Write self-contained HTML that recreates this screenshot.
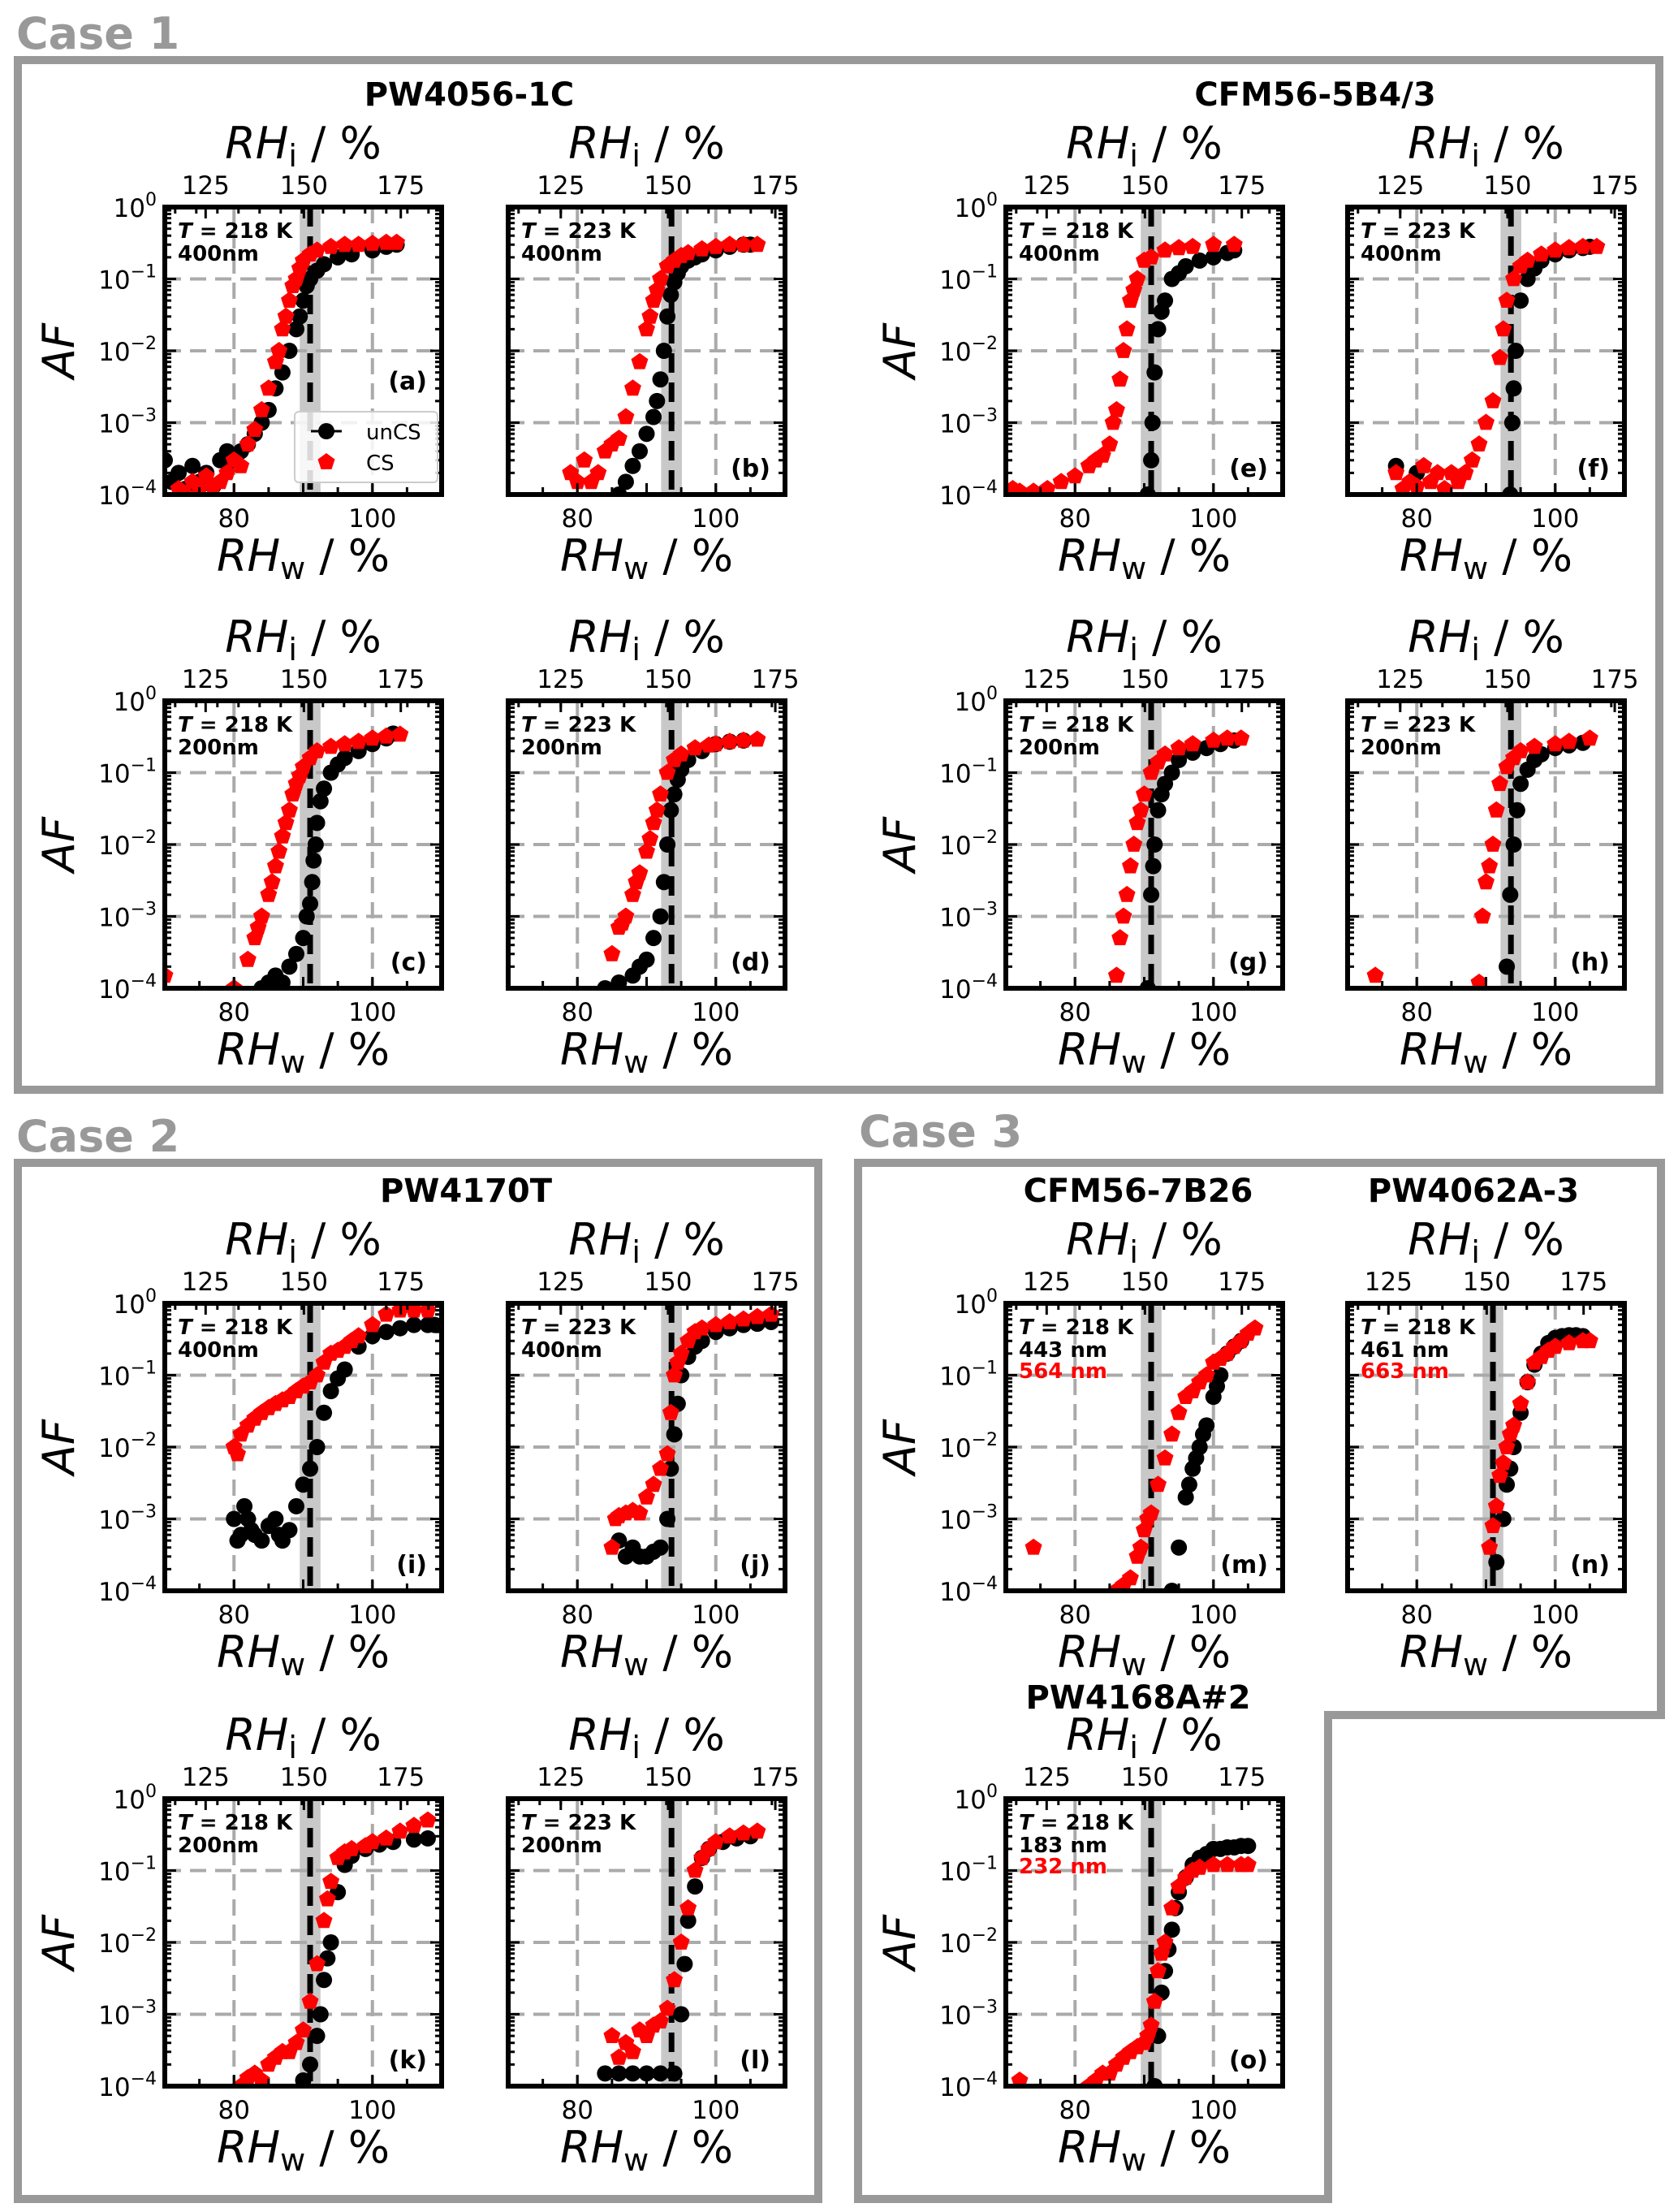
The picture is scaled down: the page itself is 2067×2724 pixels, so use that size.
<!DOCTYPE html>
<html><head><meta charset="utf-8">
<style>
html,body{margin:0;padding:0;background:#fff;}
svg{display:block;font-family:"DejaVu Sans","Liberation Sans",sans-serif;}
</style></head>
<body>
<svg id="fig" width="2067" height="2724" viewBox="0 0 2067 2724" xmlns="http://www.w3.org/2000/svg">
  <g id="frames" fill="none" stroke="#999" stroke-width="10">
    <rect x="22" y="74" width="2022" height="1268"/>
    <rect x="22" y="1432" width="986" height="1276"/>
    <path d="M1057,1432 L2046,1432 L2046,2112 L1636,2112 L1636,2708 L1057,2708 Z"/>
  </g>
  <text x="20" y="60" font-size="54" font-weight="bold" fill="#999">Case 1</text>
  <text x="20" y="1418" font-size="54" font-weight="bold" fill="#999">Case 2</text>
  <text x="1058" y="1412" font-size="54" font-weight="bold" fill="#999">Case 3</text>
  <g font-size="40" font-weight="bold" text-anchor="middle">
    <text x="578" y="130">PW4056-1C</text>
    <text x="1620" y="130">CFM56-5B4/3</text>
    <text x="574" y="1480">PW4170T</text>
    <text x="1402" y="1480">CFM56-7B26</text>
    <text x="1815" y="1480">PW4062A-3</text>
    <text x="1402" y="2104">PW4168A#2</text>
  </g>
  <g id="panels"></g>
</svg>
<script>
// ---- data (RHw in %, AF) ----
const xTicks = [80, 100];
const yTickExp = [0, -1, -2, -3, -4];
const topTickLabels = [125, 150, 175];
const topTickPos218 = [75.9, 90.1, 104.1];
const topTickPos223 = [77.6, 93.1, 108.6];

const a_unX = [70,71,72,73,74,75,76,77,78,79,80,81,82,83,84,85,86,87,88,89,89.5,90,90.5,91,92,93,95,97,100,102,103.5];
const a_unY = [3e-4,1.5e-4,2e-4,1.2e-4,2.5e-4,1.5e-4,2e-4,1.3e-4,3e-4,4e-4,3e-4,4e-4,5e-4,7e-4,1e-3,1.5e-3,3e-3,5e-3,1e-2,2e-2,3e-2,5e-2,0.08,0.1,0.13,0.16,0.2,0.22,0.25,0.28,0.3];
const a_csX = [72,73,74,75,76,77,78,79,80,81,82,83,84,85,86,86.5,87,87.5,88,88.5,89,89.5,90,91,92,94,96,98,100,102,103.5];
const a_csY = [1.2e-4,1e-4,1.5e-4,1.2e-4,1.8e-4,1.3e-4,1.5e-4,2e-4,3e-4,2.5e-4,5e-4,8e-4,1.5e-3,3e-3,7e-3,1e-2,2e-2,3e-2,5e-2,0.08,0.1,0.14,0.18,0.22,0.25,0.28,0.3,0.3,0.31,0.32,0.32];

const b_unX = [86,87,88,89,90,91,91.5,92,92.5,93,93.5,94,94.5,95,96,97,98,100,102,104,105];
const b_unY = [1e-4,1.5e-4,2.5e-4,4e-4,7e-4,1.2e-3,2e-3,4e-3,1e-2,3e-2,0.06,0.09,0.12,0.15,0.18,0.2,0.22,0.25,0.28,0.3,0.3];
const b_csX = [79,80,81,82,83,84,85,86,87,88,89,90,90.5,91,91.5,92,93,94,95,96,98,100,102,104,106];
const b_csY = [2e-4,1.5e-4,3e-4,1.5e-4,2e-4,4e-4,5e-4,6e-4,1.2e-3,3e-3,7e-3,0.02,0.03,0.05,0.07,0.1,0.15,0.18,0.21,0.23,0.26,0.28,0.3,0.3,0.3];

const c_unX = [84,85,86,87,88,89,90,90.5,91,91.3,91.5,91.8,92,92.5,93,94,95,96,98,100,102,103];
const c_unY = [1e-4,1.2e-4,1.5e-4,1.2e-4,2e-4,3e-4,5e-4,1e-3,1.5e-3,3e-3,6e-3,1e-2,2e-2,0.04,0.06,0.1,0.13,0.16,0.2,0.25,0.3,0.35];
const c_csX = [70,80,82,83,83.5,84,85,85.5,86,86.5,87,87.5,88,88.5,89,89.5,90,91,92,94,96,98,100,102,104];
const c_csY = [1.5e-4,1e-4,2.5e-4,5e-4,7e-4,1e-3,2e-3,3e-3,5e-3,8e-3,1.3e-2,2e-2,3e-2,5e-2,0.07,0.09,0.12,0.16,0.2,0.23,0.25,0.27,0.3,0.32,0.34];

const d_unX = [84,86,88,89,90,91,92,92.5,93,93.5,94,94.5,95,96,98,100,102,104];
const d_unY = [1e-4,1.2e-4,1.5e-4,2e-4,2.5e-4,5e-4,1e-3,3e-3,1e-2,3e-2,0.05,0.08,0.11,0.15,0.2,0.25,0.27,0.28];
const d_csX = [85,86,86.5,87,88,88.5,89,90,90.5,91,91.5,92,93,94,95,97,99,100,102,104,106];
const d_csY = [3e-4,7e-4,8e-4,1e-3,2e-3,3e-3,4e-3,8e-3,1.2e-2,2e-2,3e-2,5e-2,0.1,0.15,0.18,0.22,0.24,0.25,0.27,0.28,0.29];

const e_unX = [90.5,91,91.2,91.5,92,92.5,93,94,95,96,98,100,102,103];
const e_unY = [1e-4,3e-4,1e-3,5e-3,2e-2,0.035,0.05,0.1,0.12,0.15,0.18,0.2,0.23,0.25];
const e_csX = [71,72,74,76,78,80,82,83,84,85,85.5,86,86.5,87,87.5,88,88.5,89,90,91,93,95,97,100,103];
const e_csY = [1.2e-4,1.1e-4,1.1e-4,1.2e-4,1.5e-4,1.8e-4,2.5e-4,3e-4,3.5e-4,5e-4,1e-3,1.5e-3,4e-3,1e-2,2e-2,5e-2,0.07,0.1,0.18,0.2,0.25,0.27,0.28,0.3,0.3];

const f_unX = [77,80,93.5,93.8,94,94.3,95,96,97,98,100,102,104,105];
const f_unY = [2.5e-4,2e-4,1e-4,1e-3,3e-3,1e-2,5e-2,0.1,0.14,0.18,0.22,0.25,0.27,0.28];
const f_csX = [77,78,79,80,81,82,83,84,85,86,87,88,89,90,91,92,92.5,93,94,95,96,98,100,102,104,106];
const f_csY = [2e-4,1.2e-4,1.5e-4,1.3e-4,2.5e-4,1.5e-4,2e-4,1.2e-4,2e-4,1.5e-4,2e-4,3e-4,5e-4,1e-3,2e-3,8e-3,2e-2,5e-2,0.1,0.15,0.18,0.22,0.25,0.27,0.28,0.28];

const g_unX = [90.5,91,91.3,91.5,92,92.5,93,94,95,97,99,101,103];
const g_unY = [1e-4,2e-3,5e-3,1e-2,3e-2,0.05,0.07,0.1,0.15,0.19,0.22,0.25,0.28];
const g_csX = [86,86.5,87,87.5,88,88.5,89,89.5,90,91,92,93,95,97,100,102,104];
const g_csY = [1.5e-4,5e-4,1e-3,2e-3,5e-3,1e-2,2e-2,3e-2,5e-2,0.1,0.14,0.18,0.22,0.25,0.28,0.3,0.3];

const h_unX = [93,93.5,94,94.5,95,96,97,98,100,102,104];
const h_unY = [2e-4,2e-3,1e-2,3e-2,0.07,0.11,0.15,0.18,0.22,0.24,0.26];
const h_csX = [74,89,89.5,90,90.5,91,91.5,92,93,94,95,97,100,102,105];
const h_csY = [1.5e-4,1.2e-4,1e-3,3e-3,5e-3,1e-2,3e-2,0.07,0.12,0.16,0.2,0.23,0.25,0.27,0.3];

const i_unX = [80,80.5,81,81.5,82,82.5,83,84,85,86,86.5,87,88,89,90,91,92,93,94,95,96,98,100,102,104,106,108,109];
const i_unY = [1e-3,5e-4,6e-4,1.5e-3,1e-3,7e-4,6e-4,5e-4,8e-4,1e-3,6e-4,5e-4,7e-4,1.5e-3,3e-3,5e-3,1e-2,3e-2,0.06,0.09,0.12,0.25,0.35,0.4,0.45,0.5,0.5,0.5];
const i_csX = [80,80.5,81,82,83,84,85,86,87,88,89,90,91,92,93,94,95,96,97,98,100,102,104,106,108];
const i_csY = [1e-2,8e-3,1.5e-2,2e-2,2.5e-2,3e-2,3.5e-2,4e-2,4.5e-2,5e-2,6e-2,7e-2,8e-2,0.1,0.15,0.2,0.22,0.25,0.3,0.35,0.5,0.7,0.8,0.8,0.8];

const j_unX = [86,87,88,89,90,91,92,93,93.5,94,94.5,95,96,97,98,100,102,104,106,108];
const j_unY = [5e-4,3e-4,4e-4,3e-4,3e-4,3.5e-4,4e-4,1e-3,5e-3,1.5e-2,4e-2,0.1,0.18,0.25,0.3,0.4,0.45,0.5,0.52,0.55];
const j_csX = [85,85.5,86,87,88,89,90,91,92,93,93.5,94,94.5,95,96,97,98,100,102,104,106,108];
const j_csY = [4e-4,1e-3,1.1e-3,1.2e-3,1.3e-3,1.2e-3,2e-3,3e-3,5e-3,8e-3,3e-2,0.1,0.15,0.2,0.3,0.4,0.45,0.5,0.55,0.6,0.65,0.7];

const k_unX = [90,91,92,92.5,93,93.5,94,95,96,97,99,101,103,106,108];
const k_unY = [1.2e-4,2e-4,5e-4,1e-3,3e-3,6e-3,1e-2,5e-2,0.12,0.16,0.2,0.23,0.25,0.27,0.28];
const k_csX = [81,82,83,84,85,86,87,88,89,90,91,92,93,93.5,94,95,96,97,99,100,102,104,106,108];
const k_csY = [1e-4,1.3e-4,1.5e-4,1.2e-4,2e-4,2.5e-4,3e-4,3e-4,4e-4,6e-4,1.5e-3,5e-3,2e-2,4e-2,7e-2,0.15,0.18,0.2,0.22,0.25,0.28,0.35,0.42,0.5];

const l_unX = [84,86,88,90,92,94,95,95.5,96,97,98,99,101,103,105];
const l_unY = [1.5e-4,1.5e-4,1.5e-4,1.5e-4,1.5e-4,1.5e-4,1e-3,5e-3,2e-2,6e-2,0.15,0.2,0.25,0.28,0.3];
const l_csX = [85,86,87,88,89,90,91,92,93,94,95,96,97,98,99,100,102,104,106];
const l_csY = [5e-4,2.5e-4,4e-4,3e-4,6e-4,5e-4,7e-4,8e-4,1.2e-3,3e-3,1e-2,3e-2,0.1,0.15,0.2,0.25,0.3,0.33,0.35];

const m_unX = [94,95,96,96.5,97,97.5,98,98.5,99,100,100.5,101,102,103,104];
const m_unY = [1e-4,4e-4,2e-3,3e-3,5e-3,7e-3,1e-2,1.5e-2,2e-2,5e-2,7e-2,0.1,0.2,0.25,0.3];
const m_csX = [74,86,87,88,89,89.5,90,90.5,91,92,93,94,95,96,97,98,99,100,101,102,103,104,105,106];
const m_csY = [4e-4,1e-4,1.2e-4,1.5e-4,3e-4,4e-4,7e-4,1e-3,1.2e-3,3e-3,7e-3,1.5e-2,3e-2,5e-2,0.06,0.08,0.1,0.15,0.17,0.2,0.25,0.3,0.38,0.45];

const n_unX = [91.5,92.5,93,93.5,94,95,96,97,98,99,100,101,102,103,104];
const n_unY = [2.5e-4,1e-3,3e-3,5e-3,1e-2,3e-2,0.08,0.14,0.2,0.28,0.33,0.35,0.36,0.36,0.35];
const n_csX = [90.5,91,91.5,92,92.5,93,93.5,94,95,96,97,98,99,100,102,104,105];
const n_csY = [4e-4,8e-4,1.5e-3,4e-3,6e-3,1e-2,1.5e-2,2e-2,4e-2,0.08,0.15,0.18,0.22,0.25,0.28,0.3,0.3];

const o_unX = [91.5,92,92.5,93,93.5,94,94.5,95,96,97,98,99,100,101,102,103,104,105];
const o_unY = [1e-4,5e-4,2e-3,4e-3,8e-3,1.5e-2,3e-2,0.05,0.08,0.12,0.15,0.17,0.2,0.2,0.21,0.21,0.22,0.22];
const o_csX = [72,82,83,84,85,86,87,88,89,90,90.5,91,91.5,92,92.5,93,94,95,96,97,98,100,102,104,105];
const o_csY = [1.2e-4,1e-4,1.2e-4,1.5e-4,1.5e-4,2e-4,2.5e-4,3e-4,3.5e-4,4e-4,5e-4,7e-4,1.5e-3,4e-3,7e-3,1e-2,3e-2,6e-2,0.08,0.1,0.11,0.12,0.12,0.12,0.12];

// ---- layout ----
const PW = 341, PH = 354;
const panels = [
  {id:'a', x:203, y:255, T:218, size:'400nm', un:[a_unX,a_unY], cs:[a_csX,a_csY], line:91, labY:2.4, legend:true, left:true},
  {id:'b', x:626, y:255, T:223, size:'400nm', un:[b_unX,b_unY], cs:[b_csX,b_csY], line:93.6},
  {id:'e', x:1239,y:255, T:218, size:'400nm', un:[e_unX,e_unY], cs:[e_csX,e_csY], line:91, left:true},
  {id:'f', x:1660,y:255, T:223, size:'400nm', un:[f_unX,f_unY], cs:[f_csX,f_csY], line:93.6},
  {id:'c', x:203, y:863, T:218, size:'200nm', un:[c_unX,c_unY], cs:[c_csX,c_csY], line:91, left:true},
  {id:'d', x:626, y:863, T:223, size:'200nm', un:[d_unX,d_unY], cs:[d_csX,d_csY], line:93.6},
  {id:'g', x:1239,y:863, T:218, size:'200nm', un:[g_unX,g_unY], cs:[g_csX,g_csY], line:91, left:true},
  {id:'h', x:1660,y:863, T:223, size:'200nm', un:[h_unX,h_unY], cs:[h_csX,h_csY], line:93.6},
  {id:'i', x:203, y:1605,T:218, size:'400nm', un:[i_unX,i_unY], cs:[i_csX,i_csY], line:91, left:true},
  {id:'j', x:626, y:1605,T:223, size:'400nm', un:[j_unX,j_unY], cs:[j_csX,j_csY], line:93.6},
  {id:'k', x:203, y:2215,T:218, size:'200nm', un:[k_unX,k_unY], cs:[k_csX,k_csY], line:91, left:true},
  {id:'l', x:626, y:2215,T:223, size:'200nm', un:[l_unX,l_unY], cs:[l_csX,l_csY], line:93.6},
  {id:'m', x:1239,y:1605,T:218, size:'443 nm', size2:'564 nm', un:[m_unX,m_unY], cs:[m_csX,m_csY], line:91, left:true},
  {id:'n', x:1660,y:1605,T:218, size:'461 nm', size2:'663 nm', un:[n_unX,n_unY], cs:[n_csX,n_csY], line:91},
  {id:'o', x:1239,y:2215,T:218, size:'183 nm', size2:'232 nm', un:[o_unX,o_unY], cs:[o_csX,o_csY], line:91, left:true}
];

const NS = 'http://www.w3.org/2000/svg';
const root = document.getElementById('panels');
function mk(tag, attrs, parent){
  const e = document.createElementNS(NS, tag);
  for (const k in attrs) e.setAttribute(k, attrs[k]);
  parent.appendChild(e);
  return e;
}
function pent(cx, cy, r){
  let p=[];
  for(let i=0;i<5;i++){const a=-Math.PI/2+i*2*Math.PI/5;p.push((cx+r*Math.cos(a)).toFixed(1)+','+(cy+r*Math.sin(a)).toFixed(1));}
  return p.join(' ');
}

panels.forEach(P=>{
  const sx = v => P.x + (v-70)/40*PW;
  const sy = af => P.y + (-Math.log10(af))/4*PH;
  const g = mk('g', {}, root);
  
  
  const cp = mk('clipPath', {id:'cp'+P.id}, g);
  mk('rect', {x:P.x, y:P.y, width:PW, height:PH}, cp);
  const band = mk('rect', {x:sx(P.line-1.5), y:P.y, width:sx(P.line+1.5)-sx(P.line-1.5), height:PH, fill:'#c8c8c8'}, g);
  
  
  xTicks.forEach(v=>{
    const l = mk('line', {x1:sx(v), x2:sx(v), y1:P.y, y2:P.y+PH, stroke:'#aaa', 'stroke-width':4, 'stroke-dasharray':'20,11'}, g);
    
    
  });
  [-1,-2,-3].forEach(e=>{
    const l = mk('line', {x1:P.x, x2:P.x+PW, y1:sy(Math.pow(10,e)), y2:sy(Math.pow(10,e)), stroke:'#aaa', 'stroke-width':4, 'stroke-dasharray':'20,11'}, g);
    
    
  });
  const vl = mk('line', {x1:sx(P.line), x2:sx(P.line), y1:P.y, y2:P.y+PH, stroke:'#000', 'stroke-width':7, 'stroke-dasharray':'24,12'}, g);
  
  
  const dg = mk('g', {'clip-path':'url(#cp'+P.id+')'}, g);
  
  
  P.un[0].forEach((x,i)=>{
    const c = mk('circle', {cx:sx(x), cy:sy(P.un[1][i]), r:10, fill:'#000'}, dg);
    
    
  });
  P.cs[0].forEach((x,i)=>{
    const c = mk('polygon', {points:pent(sx(x), sy(P.cs[1][i]), 11), fill:'#f00'}, dg);
    
    
  });
  const tk = mk('g', {stroke:'#000', 'stroke-width':3}, g);
  
  
  for(let v=70; v<=110; v+=5){
    const L = (v%10==0)?14:9;
    mk('line',{x1:sx(v),x2:sx(v),y1:P.y+PH,y2:P.y+PH-L},tk);
  }
  const topPos = P.T==218?topTickPos218:topTickPos223;
  for(let k=0;k<topPos.length;k++){ mk('line',{x1:sx(topPos[k]),x2:sx(topPos[k]),y1:P.y,y2:P.y+14},tk); }
  for(let v=71.5; v<110; v+=3.05){ mk('line',{x1:sx(v),x2:sx(v),y1:P.y,y2:P.y+8},tk); }
  for(let e=-4;e<0;e++){
    for(let m=1;m<10;m++){
      const yy = sy(m*Math.pow(10,e)); const L = m==1?14:8;
      mk('line',{x1:P.x,x2:P.x+L,y1:yy,y2:yy},tk);
      mk('line',{x1:P.x+PW,x2:P.x+PW-L,y1:yy,y2:yy},tk);
    }
  }
  const fr = mk('rect', {x:P.x, y:P.y, width:PW, height:PH, fill:'none', stroke:'#000', 'stroke-width':6}, g);
  
  
  xTicks.forEach(v=>{
    const t = mk('text', {x:sx(v), y:P.y+PH+40, 'font-size':31, 'text-anchor':'middle'}, g);
    t.textContent = v;
    
    
  });
  topTickLabels.forEach((v,k)=>{
    const t = mk('text', {x:sx(topPos[k]), y:P.y-16, 'font-size':31, 'text-anchor':'middle'}, g);
    t.textContent = v;
    
    
  });
  if (P.left){
    yTickExp.forEach(e=>{
      const t = mk('text', {x:P.x-10, y:sy(Math.pow(10,e))+12, 'font-size':31, 'text-anchor':'end'}, g);
      t.textContent = '10';
      const s = mk('tspan', {dy:-14, 'font-size':22}, t);
      s.textContent = e==0?'0':'\u2212'+(-e);
      
      
    });
    const yt = mk('text', {x:P.x-112, y:P.y+PH/2, 'font-size':54, 'font-style':'italic', 'text-anchor':'middle', transform:'rotate(-90 '+(P.x-112)+' '+(P.y+PH/2)+')'}, g);
    yt.textContent = 'AF';
    
    
  }
  const cx = P.x+PW/2;
  const tt = mk('text', {x:cx, y:P.y-60, 'font-size':54, 'text-anchor':'middle'}, g);
  tt.innerHTML = '<tspan font-style="italic">RH</tspan><tspan font-size="38" dy="10">i</tspan><tspan dy="-10"> / %</tspan>';
  
  
  const bt = mk('text', {x:cx, y:P.y+PH+94, 'font-size':54, 'text-anchor':'middle'}, g);
  bt.innerHTML = '<tspan font-style="italic">RH</tspan><tspan font-size="38" dy="10">w</tspan><tspan dy="-10"> / %</tspan>';
  
  
  const an = mk('text', {x:P.x+16, y:P.y+38, 'font-size':26, 'font-weight':'bold'}, g);
  an.innerHTML = '<tspan font-style="italic">T</tspan> = '+P.T+' K';
  
  
  const sz = mk('text', {x:P.x+16, y:P.y+66, 'font-size':26, 'font-weight':'bold'}, g);
  sz.textContent = P.size;
  
  
  if (P.size2){
    const s2 = mk('text', {x:P.x+16, y:P.y+92, 'font-size':26, 'font-weight':'bold', fill:'#f00'}, g);
    s2.textContent = P.size2;
    
    
  }
  const ly = P.labY ? P.y + PH*(P.labY/4)+12 : P.y+PH-22;
  const pl = mk('text', {x:P.x+PW-18, y:ly, 'font-size':30, 'font-weight':'bold', 'text-anchor':'end'}, g);
  pl.textContent = '('+P.id+')';
  
  
  if (P.legend){
    const lg = mk('g', {}, g);
    
    
    mk('rect', {x:P.x+160, y:P.y+252, width:176, height:87, rx:5, fill:'rgba(255,255,255,0.85)', stroke:'#ccc', 'stroke-width':2}, lg);
    mk('line', {x1:P.x+180, x2:P.x+218, y1:P.y+276, y2:P.y+276, stroke:'#000', 'stroke-width':3}, lg);
    mk('circle', {cx:P.x+199, cy:P.y+276, r:10, fill:'#000'}, lg);
    const t1 = mk('text', {x:P.x+248, y:P.y+286, 'font-size':26}, lg);
    t1.textContent = 'unCS';
    
    
    mk('polygon', {points:pent(P.x+199, P.y+314, 11), fill:'#f00'}, lg);
    const t2 = mk('text', {x:P.x+248, y:P.y+324, 'font-size':26}, lg);
    t2.textContent = 'CS';
    
    
  }
});
</script>
</body></html>
